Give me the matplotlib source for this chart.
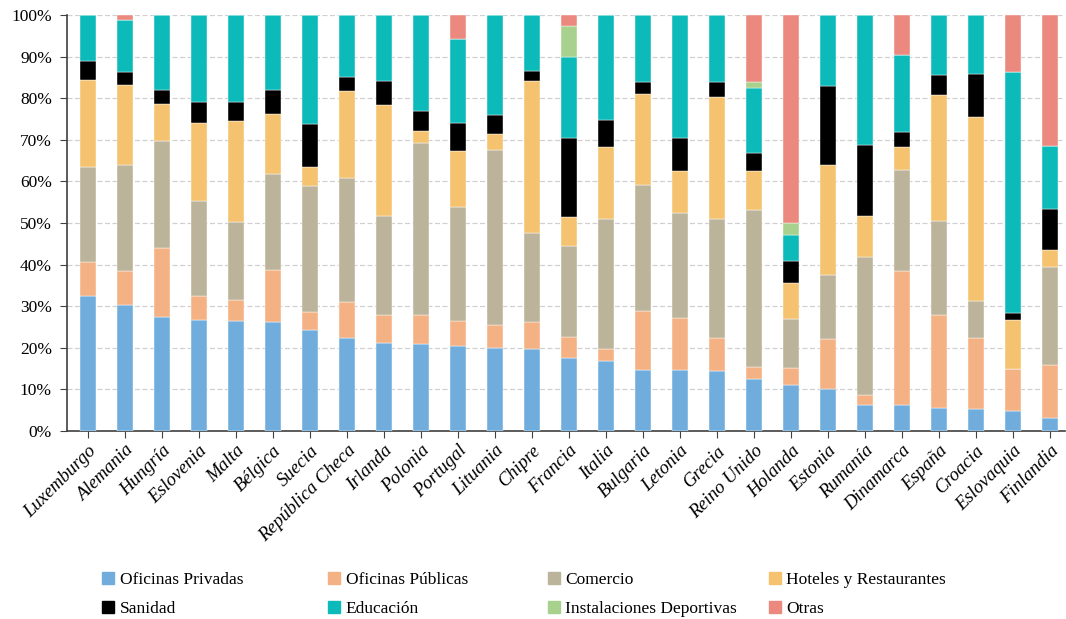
import numpy as np
import matplotlib.pyplot as plt
from matplotlib.patches import Patch
from matplotlib.ticker import PercentFormatter

countries = ['Luxemburgo', 'Alemania', 'Hungría', 'Eslovenia', 'Malta', 'Bélgica',
             'Suecia', 'República Checa', 'Irlanda', 'Polonia', 'Portugal',
             'Lituania', 'Chipre', 'Francia', 'Italia', 'Bulgaria', 'Letonia',
             'Grecia', 'Reino Unido', 'Holanda', 'Estonia', 'Rumanía',
             'Dinamarca', 'España', 'Croacia', 'Eslovaquia', 'Finlandia']

# share (%) of each building type per country
oficinas_privadas = [32.4, 30.2, 27.5, 26.7, 26.4, 26.2, 24.3, 22.3, 21.1, 20.9, 20.4,
                     19.9, 19.7, 17.5, 16.8, 14.7, 14.7, 14.4, 12.6, 11.0, 10.1, 6.2,
                     6.2, 5.5, 5.3, 4.7, 3.1]
oficinas_publicas = [8.2, 8.3, 16.4, 5.7, 5.1, 12.6, 4.4, 8.8, 6.7, 7.0, 6.1,
                     5.5, 6.6, 5.2, 3.0, 14.2, 12.5, 7.9, 2.9, 4.1, 12.1, 2.4,
                     32.2, 22.4, 17.0, 10.3, 12.8]
comercio = [22.8, 25.4, 25.8, 22.8, 18.7, 23.0, 30.1, 29.7, 23.8, 41.3, 27.3,
            42.1, 21.3, 21.7, 31.1, 30.3, 25.2, 28.6, 37.7, 11.9, 15.4, 33.3,
            24.4, 22.5, 8.9, 0.0, 23.6]
hoteles = [21.1, 19.2, 8.8, 18.9, 24.3, 14.3, 4.6, 21.0, 26.7, 2.9, 13.5,
           3.8, 36.6, 7.0, 17.3, 21.7, 10.1, 29.3, 9.3, 8.5, 26.3, 9.7,
           5.5, 30.4, 44.3, 11.7, 4.1]
sanidad = [4.5, 3.3, 3.5, 5.0, 4.5, 5.9, 10.3, 3.3, 5.8, 4.8, 6.8,
           4.6, 2.4, 19.0, 6.5, 2.9, 7.9, 3.6, 4.4, 5.3, 19.0, 17.1,
           3.6, 4.7, 10.4, 1.6, 9.8]
educacion = [11.0, 12.3, 18.0, 20.9, 21.0, 18.0, 26.3, 14.9, 15.9, 23.1, 20.1,
             24.1, 13.4, 19.4, 25.3, 16.2, 29.6, 16.2, 15.5, 6.4, 17.1, 31.3,
             18.4, 14.5, 14.1, 57.9, 15.1]
deportivas = [0, 0, 0, 0, 0, 0, 0, 0, 0, 0, 0,
              0, 0, 7.6, 0, 0, 0, 0, 1.6, 2.7, 0, 0,
              0, 0, 0, 0, 0]
otras = [0, 1.3, 0, 0, 0, 0, 0, 0, 0, 0, 5.8,
         0, 0, 2.6, 0, 0, 0, 0, 16.0, 50.1, 0, 0,
         9.7, 0, 0, 13.8, 31.5]

series = [('Oficinas Privadas', oficinas_privadas, '#70ADDD'),
          ('Oficinas Públicas', oficinas_publicas, '#F4B183'),
          ('Comercio', comercio, '#BBB49A'),
          ('Hoteles y Restaurantes', hoteles, '#F5C36F'),
          ('Sanidad', sanidad, '#000000'),
          ('Educación', educacion, '#0DBABA'),
          ('Instalaciones Deportivas', deportivas, '#A8D18D'),
          ('Otras', otras, '#EB897E')]

plt.rcParams['font.family'] = ['Liberation Serif', 'DejaVu Serif']

data = np.array([s[1] for s in series], dtype=float)
data = data / data.sum(axis=0) * 100  # normalise to 100%

fig = plt.figure(figsize=(10.66, 6.19), dpi=100)
ax = fig.add_axes([0.063, 0.3037, 0.936, 0.672])

x = np.arange(len(countries))
bottom = np.zeros(len(countries))
for (name, _, color), vals in zip(series, data):
    ax.bar(x, vals, 0.42, bottom=bottom, color=color, label=name,
           edgecolor='white', linewidth=0.3, zorder=3)
    bottom += vals

ax.set_xlim(-0.56, len(countries) - 0.6)
ax.set_ylim(0, 100)
ax.set_yticks(np.arange(0, 101, 10))
ax.yaxis.set_major_formatter(PercentFormatter(decimals=0))
ax.grid(axis='y', color='#D0D0D0', linestyle=(0, (4, 2)), linewidth=0.9, zorder=0)

for side in ('top', 'right'):
    ax.spines[side].set_visible(False)
for side in ('left', 'bottom'):
    ax.spines[side].set_color('#404040')
    ax.spines[side].set_linewidth(1.2)

ax.tick_params(axis='y', length=5, color='#404040', labelsize=12.5, pad=6)
ax.tick_params(axis='x', length=5, color='#404040', pad=3)
ax.set_xticks(x)
ax.set_xticklabels(countries, rotation=45, ha='right', rotation_mode='anchor',
                   fontsize=13.5, fontstyle='italic')

# legend laid out row-wise: one small legend per column
col_x = [0.096, 0.308, 0.514, 0.721]
for i, cx in enumerate(col_x):
    handles = [Patch(color=series[j][2], label=series[j][0]) for j in (i, i + 4)]
    fig.legend(handles=handles, loc='upper left', bbox_to_anchor=(cx, 0.076),
               frameon=False, fontsize=12.5, handlelength=0.7, handleheight=0.7,
               handletextpad=0.3, labelspacing=0.75, borderaxespad=0,
               borderpad=0)

fig.savefig('out.png', dpi=100)
